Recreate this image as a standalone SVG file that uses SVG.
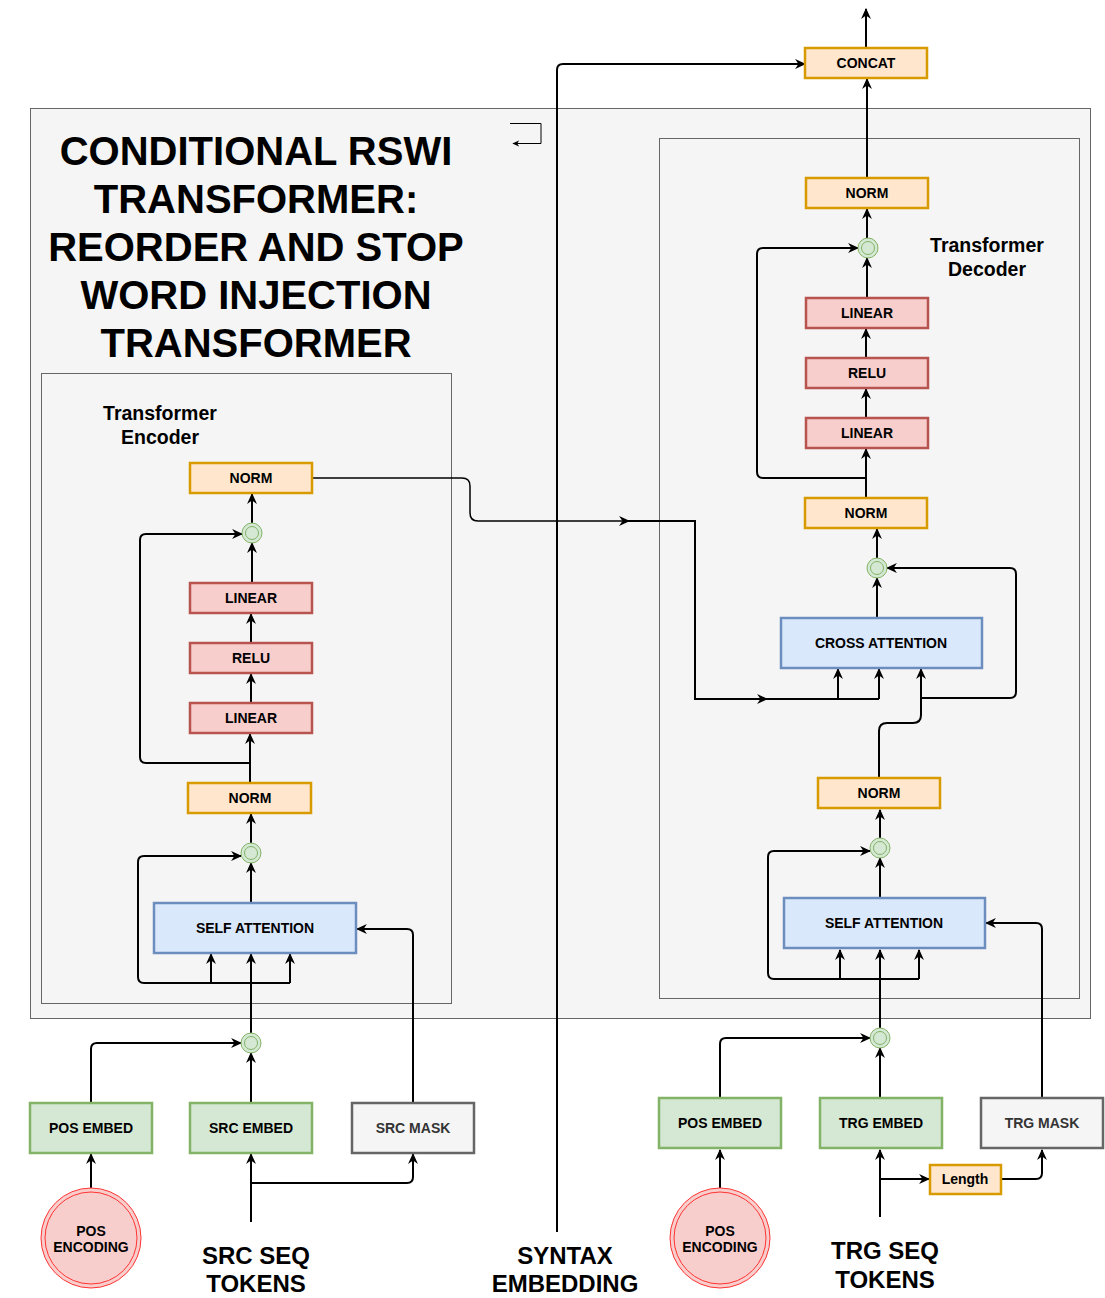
<svg xmlns="http://www.w3.org/2000/svg" width="1105" height="1298" viewBox="0 0 1105 1298">
<style>
text{font-family:"Liberation Sans",Arial,Helvetica,sans-serif;font-weight:bold;text-anchor:middle;fill:#000}
.lbl{font-size:14px}
.sa{font-size:14px}
.big{font-size:24px}
.title{font-size:40px}
.sub{font-size:19.5px}
.org{fill:#ffe6cc;stroke:#d79b00;stroke-width:2.5}
.red{fill:#f8cecc;stroke:#b85450;stroke-width:2.5}
.blu{fill:#dae8fc;stroke:#6c8ebf;stroke-width:2.5}
.grn{fill:#d5e8d4;stroke:#82b366;stroke-width:2.5}
.gry{fill:#f5f5f5;stroke:#666666;stroke-width:2.5}
.cont{fill:#f5f5f5;stroke:#666666;stroke-width:1}
.add{fill:#d5e8d4;stroke:#82b366;stroke-width:1}
.ring{fill:none;stroke:#82b366;stroke-width:1}
.pe{fill:#f8cecc;stroke:#ff3333;stroke-width:1}
.c{fill:none;stroke:#000;stroke-width:2}
.c1{fill:none;stroke:#000;stroke-width:1.5}
.ar{marker-end:url(#a)}
</style>
<defs>
<marker id="a" viewBox="0 0 10 10" refX="9" refY="5" markerWidth="11" markerHeight="11" markerUnits="userSpaceOnUse" orient="auto">
<path d="M0,0.5 L10,5 L0,9.5 L3,5 z" fill="#000"/>
</marker>
<marker id="s" viewBox="0 0 10 10" refX="9" refY="5" markerWidth="7" markerHeight="7" markerUnits="userSpaceOnUse" orient="auto">
<path d="M0,0.5 L10,5 L0,9.5 L3,5 z" fill="#000"/>
</marker>
</defs>

<g id="containers">
<rect class="cont" x="30.5" y="108.5" width="1060" height="910"/>
<rect class="cont" x="41.5" y="373.5" width="410" height="630"/>
<rect class="cont" x="659.5" y="138.5" width="420" height="860"/>
</g>

<g id="title">
<text class="title" x="256" y="165">CONDITIONAL RSWI</text>
<text class="title" x="256" y="213">TRANSFORMER:</text>
<text class="title" x="256" y="261">REORDER AND STOP</text>
<text class="title" x="256" y="309">WORD INJECTION</text>
<text class="title" x="256" y="357">TRANSFORMER</text>
<path d="M510,123.5 H541 V143.5 H513" fill="none" stroke="#000" stroke-width="1" marker-end="url(#s)"/>
</g>

<g id="labels">
<text class="sub" x="160" y="420">Transformer</text>
<text class="sub" x="160" y="444">Encoder</text>
<text class="sub" x="987" y="252">Transformer</text>
<text class="sub" x="987" y="276">Decoder</text>
<text class="big" x="256" y="1264">SRC SEQ</text>
<text class="big" x="256" y="1292">TOKENS</text>
<text class="big" x="565" y="1264">SYNTAX</text>
<text class="big" x="565" y="1292">EMBEDDING</text>
<text class="big" x="885" y="1259">TRG SEQ</text>
<text class="big" x="885" y="1288">TOKENS</text>
</g>

<g id="connectors">
<path class="c ar" d="M251,1222 V1154"/>
<path class="c ar" d="M251,1183 H407 Q413,1183 413,1177 V1154"/>
<path class="c ar" d="M91,1188 V1154"/>
<path class="c ar" d="M91,1103 V1049 Q91,1043 97,1043 H241"/>
<path class="c ar" d="M251,1103 V1053"/>
<path class="c ar" d="M251,1033 V954"/>
<path class="c ar" d="M290,983 H144 Q138,983 138,977 V862 Q138,856 144,856 H241"/>
<path class="c ar" d="M211,983 V954"/>
<path class="c ar" d="M290,983 V954"/>
<path class="c ar" d="M413,1103 V935 Q413,929 407,929 H357"/>
<path class="c ar" d="M251,903 V863"/>
<path class="c ar" d="M251,843 V814"/>
<path class="c ar" d="M250,783 V734"/>
<path class="c ar" d="M250,763 H146 Q140,763 140,757 V540 Q140,534 146,534 H242"/>
<path class="c ar" d="M251,703 V674"/>
<path class="c ar" d="M251,643 V614"/>
<path class="c ar" d="M252,583 V543"/>
<path class="c ar" d="M252,523 V494"/>
<path class="c1 ar" d="M313,478 H462 Q470,478 470,486 V513 Q470,521 478,521 H629"/>
<path class="c" d="M625,521 H695 V699 H762"/>
<path class="c ar" d="M755,699 H767"/>
<path class="c" d="M764,699 H879"/>
<path class="c ar" d="M838,699 V669"/>
<path class="c ar" d="M879,699 V669"/>
<path class="c ar" d="M880,1217 V1150"/>
<path class="c ar" d="M880,1179 H929"/>
<path class="c ar" d="M1001,1179 H1036 Q1042,1179 1042,1173 V1150"/>
<path class="c ar" d="M720,1188 V1150"/>
<path class="c ar" d="M720,1098 V1044 Q720,1038 726,1038 H870"/>
<path class="c ar" d="M880,1098 V1048"/>
<path class="c ar" d="M880,1028 V950"/>
<path class="c ar" d="M919,979 H774 Q768,979 768,973 V857 Q768,851 774,851 H870"/>
<path class="c ar" d="M840,979 V950"/>
<path class="c ar" d="M919,979 V950"/>
<path class="c ar" d="M1042,1098 V929 Q1042,923 1036,923 H986"/>
<path class="c ar" d="M880,898 V858"/>
<path class="c ar" d="M880,838 V810"/>
<path class="c ar" d="M879,778 V731 Q879,723 887,723 H913 Q921,723 921,715 V669"/>
<path class="c ar" d="M921,698 H1010 Q1016,698 1016,692 V574 Q1016,568 1010,568 H887"/>
<path class="c ar" d="M877,618 V578"/>
<path class="c ar" d="M877,558 V529"/>
<path class="c ar" d="M866,498 V449"/>
<path class="c ar" d="M866,478 H763 Q757,478 757,472 V254 Q757,248 763,248 H858"/>
<path class="c ar" d="M866,418 V389"/>
<path class="c ar" d="M866,358 V329"/>
<path class="c ar" d="M867,298 V258"/>
<path class="c ar" d="M867,238 V209"/>
<path class="c ar" d="M867,178 V79"/>
<path class="c ar" d="M866,48 V9"/>
<path class="c ar" d="M557,1232 V70 Q557,64 563,64 H805"/>
</g>

<g id="enc-norm2"><rect class="org" x="190" y="463" width="122" height="30"/><text class="lbl" x="251" y="483">NORM</text></g>
<g id="enc-add2"><circle class="add" cx="252" cy="533" r="10"/><circle class="ring" cx="252" cy="533" r="6.5"/></g>
<g id="enc-linear2"><rect class="red" x="190" y="583" width="122" height="30"/><text class="lbl" x="251" y="603">LINEAR</text></g>
<g id="enc-relu"><rect class="red" x="190" y="643" width="122" height="30"/><text class="lbl" x="251" y="663">RELU</text></g>
<g id="enc-linear1"><rect class="red" x="190" y="703" width="122" height="30"/><text class="lbl" x="251" y="723">LINEAR</text></g>
<g id="enc-norm1"><rect class="org" x="188" y="783" width="123" height="30"/><text class="lbl" x="250" y="803">NORM</text></g>
<g id="enc-add1"><circle class="add" cx="251" cy="853" r="10"/><circle class="ring" cx="251" cy="853" r="6.5"/></g>
<g id="enc-self-attn"><rect class="blu" x="154" y="903" width="202" height="50"/><text class="sa" x="255" y="933">SELF ATTENTION</text></g>
<g id="enc-add0"><circle class="add" cx="251" cy="1043" r="10"/><circle class="ring" cx="251" cy="1043" r="6.5"/></g>
<g id="enc-pos-embed"><rect class="grn" x="30" y="1103" width="122" height="50"/><text class="lbl" x="91" y="1133">POS EMBED</text></g>
<g id="src-embed"><rect class="grn" x="190" y="1103" width="122" height="50"/><text class="lbl" x="251" y="1133">SRC EMBED</text></g>
<g id="src-mask"><rect class="gry" x="352" y="1103" width="122" height="50"/><text class="lbl" x="413" y="1133" style="fill:#333333">SRC MASK</text></g>
<g id="enc-pos-enc"><circle class="pe" cx="91" cy="1238" r="50"/><circle class="pe" cx="91" cy="1238" r="46"/><text class="lbl" x="91" y="1236">POS</text><text class="lbl" x="91" y="1252">ENCODING</text></g>

<g id="concat"><rect class="org" x="805" y="48" width="122" height="30"/><text class="lbl" x="866" y="68">CONCAT</text></g>
<g id="dec-norm3"><rect class="org" x="806" y="178" width="122" height="30"/><text class="lbl" x="867" y="198">NORM</text></g>
<g id="dec-add3"><circle class="add" cx="868" cy="248" r="10"/><circle class="ring" cx="868" cy="248" r="6.5"/></g>
<g id="dec-linear2"><rect class="red" x="806" y="298" width="122" height="30"/><text class="lbl" x="867" y="318">LINEAR</text></g>
<g id="dec-relu"><rect class="red" x="806" y="358" width="122" height="30"/><text class="lbl" x="867" y="378">RELU</text></g>
<g id="dec-linear1"><rect class="red" x="806" y="418" width="122" height="30"/><text class="lbl" x="867" y="438">LINEAR</text></g>
<g id="dec-norm2"><rect class="org" x="805" y="498" width="122" height="30"/><text class="lbl" x="866" y="518">NORM</text></g>
<g id="dec-add2"><circle class="add" cx="877" cy="568" r="10"/><circle class="ring" cx="877" cy="568" r="6.5"/></g>
<g id="cross-attn"><rect class="blu" x="781" y="618" width="201" height="50"/><text class="lbl" x="881" y="648">CROSS ATTENTION</text></g>
<g id="dec-norm1"><rect class="org" x="818" y="778" width="122" height="30"/><text class="lbl" x="879" y="798">NORM</text></g>
<g id="dec-add1"><circle class="add" cx="880" cy="848" r="10"/><circle class="ring" cx="880" cy="848" r="6.5"/></g>
<g id="dec-self-attn"><rect class="blu" x="784" y="898" width="201" height="50"/><text class="sa" x="884" y="928">SELF ATTENTION</text></g>
<g id="dec-add0"><circle class="add" cx="880" cy="1038" r="10"/><circle class="ring" cx="880" cy="1038" r="6.5"/></g>
<g id="dec-pos-embed"><rect class="grn" x="659" y="1098" width="122" height="50"/><text class="lbl" x="720" y="1128">POS EMBED</text></g>
<g id="trg-embed"><rect class="grn" x="820" y="1098" width="122" height="50"/><text class="lbl" x="881" y="1128">TRG EMBED</text></g>
<g id="trg-mask"><rect class="gry" x="981" y="1098" width="122" height="50"/><text class="lbl" x="1042" y="1128" style="fill:#333333">TRG MASK</text></g>
<g id="length"><rect class="org" x="930" y="1165" width="71" height="29"/><text class="lbl" x="965" y="1184">Length</text></g>
<g id="dec-pos-enc"><circle class="pe" cx="720" cy="1238" r="50"/><circle class="pe" cx="720" cy="1238" r="46"/><text class="lbl" x="720" y="1236">POS</text><text class="lbl" x="720" y="1252">ENCODING</text></g>
</svg>
